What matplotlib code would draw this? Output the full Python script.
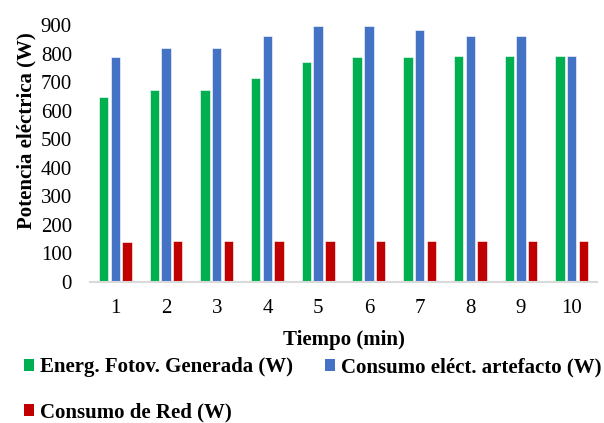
import matplotlib
matplotlib.use("Agg")
import matplotlib.pyplot as plt
import numpy as np
from matplotlib.patches import Patch

categories = ["1", "2", "3", "4", "5", "6", "7", "8", "9", "10"]
fotov = [648, 672, 672, 716, 770, 788, 788, 792, 792, 792]
consumo = [788, 820, 820, 860, 898, 898, 884, 860, 860, 792]
red = [140, 142, 142, 142, 142, 142, 142, 142, 142, 142]

series_names = ["Energ. Fotov. Generada (W)", "Consumo eléct. artefacto (W)", "Consumo de Red (W)"]
colors = ["#00B050", "#4472C4", "#C00000"]

plt.rcParams['font.family'] = ['Liberation Serif', 'DejaVu Serif']

fig = plt.figure(figsize=(6.04, 4.23), dpi=100)
ax = fig.add_axes([90/604, 1-282/423, (597-90)/604, (282-25)/423])

x = np.arange(1, len(categories)+1)
w = 0.185
step = 0.23
for i, (vals, c) in enumerate(zip([fotov, consumo, red], colors)):
    ax.bar(x + (i-1)*step, vals, width=w, color=c, edgecolor='white', linewidth=0.4, zorder=2)

ax.set_xlim(0.5, 10.5)
ax.set_ylim(0, 900)
ax.set_yticks(range(0, 901, 100))
ax.set_xticks(x)
ax.set_xticklabels(categories)
for s in ['top', 'right', 'left']:
    ax.spines[s].set_visible(False)
ax.spines['bottom'].set_color('#d9d9d9')
ax.spines['bottom'].set_linewidth(1.5)
ax.tick_params(axis='both', length=0, labelsize=15)
ax.tick_params(axis='y', pad=13)
ax.tick_params(axis='x', pad=12)

ax.set_ylabel("Potencia eléctrica (W)", fontsize=15, fontweight='bold')
ax.yaxis.set_label_coords((26-90)/507, (282-131)/257)
ax.set_xlabel("Tiempo (min)", fontsize=15, fontweight='bold')
ax.xaxis.set_label_coords(0.5, -(340-282)/257)
ax.xaxis.label.set_va('center')
ax.yaxis.label.set_va('center')

handles = [Patch(facecolor=colors[0]), Patch(facecolor=colors[2]), Patch(facecolor=colors[1])]
labels = [series_names[0], series_names[2], series_names[1]]
leg = fig.legend(handles, labels, ncol=2, loc='upper left',
                 bbox_to_anchor=(24/604, 1-357/423), frameon=False,
                 prop={'size': 15, 'weight': 'bold'},
                 handlelength=0.5, handleheight=0.5, handletextpad=0.25,
                 columnspacing=1.55, labelspacing=1.2, borderpad=0, borderaxespad=0)

fig.savefig("out.png", dpi=100)
